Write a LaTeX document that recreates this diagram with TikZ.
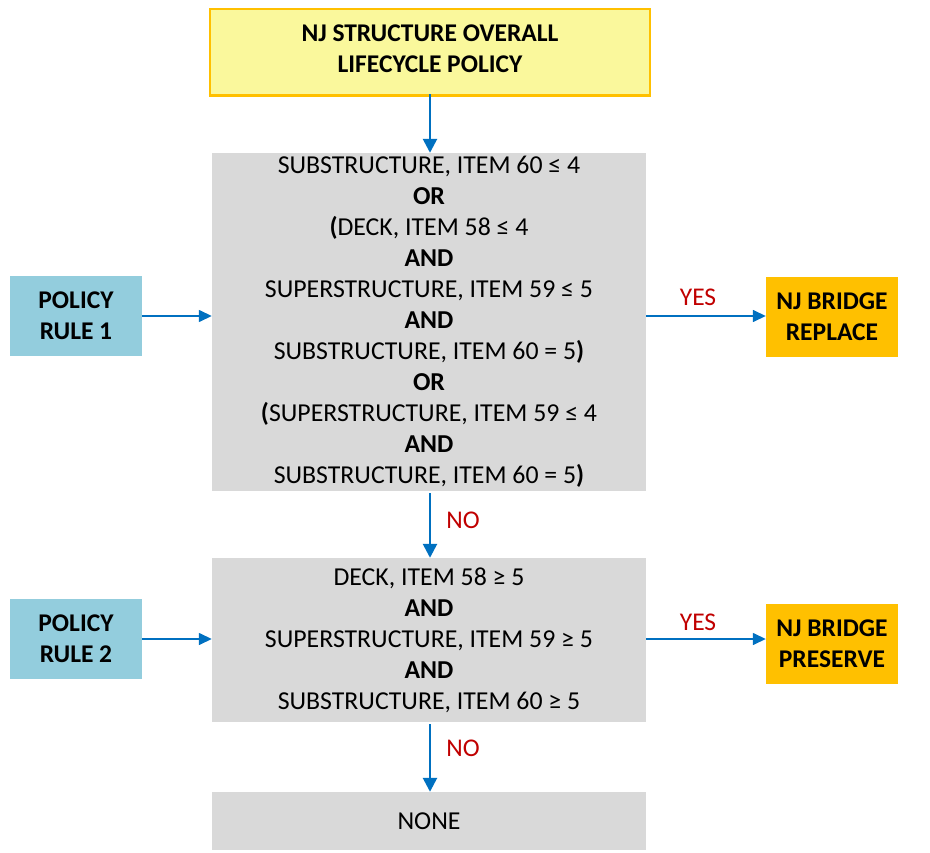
\documentclass[tikz,border=0pt]{standalone}
\usepackage{fontspec}
\setmainfont{Carlito}
\usetikzlibrary{arrows.meta}
\definecolor{cgray}{HTML}{D9D9D9}
\definecolor{cblue}{HTML}{93CDDD}
\definecolor{corange}{HTML}{FFC000}
\definecolor{cyellow}{HTML}{FAF89C}
\definecolor{carrow}{HTML}{0070C0}
\definecolor{cred}{HTML}{C00000}
\tikzset{
  graybox/.style={fill=cgray, draw=none, minimum width=434pt, align=center, inner sep=0pt,
    font=\fontsize{25.8}{31}\selectfont},
  rulebox/.style={fill=cblue, draw=none, minimum width=132pt, minimum height=80pt, align=center,
    inner sep=0pt, font=\fontsize{25.5}{31}\selectfont\bfseries},
  outbox/.style={fill=corange, draw=none, minimum width=132pt, minimum height=80pt, align=center,
    inner sep=0pt, font=\fontsize{25.5}{31}\selectfont\bfseries},
  topbox/.style={fill=cyellow, draw=corange, line width=1.5pt, minimum width=440pt, minimum height=86pt,
    inner sep=0pt},
  toptext/.style={align=center, inner sep=0pt, font=\fontsize{25.5}{31}\selectfont\bfseries},
  flow/.style={draw=carrow, line width=1.5pt, -{Triangle[length=13pt,width=12pt]}},
  vflow/.style={draw=carrow, line width=2.6pt, -{Triangle[length=14pt,width=14pt]}},
  lbl/.style={text=cred, font=\fontsize{25.5}{28}\selectfont, inner sep=0pt}
}
\begin{document}
\begin{tikzpicture}[x=1pt,y=-1pt]
\useasboundingbox (0,0) rectangle (930,853);
\node[topbox] (top) at (430,52) {};
\node[toptext] (toplabel) at (430,49) {NJ STRUCTURE OVERALL\\LIFECYCLE POLICY};
\draw[corange, line width=3pt] ([xshift=-0.5pt]top.south west) -- ([xshift=0.5pt]top.south east);
\node[graybox, minimum height=338pt] (c1) at (429,322) {%
SUBSTRUCTURE, ITEM 60 ≤ 4\\
\textbf{OR}\\
\textbf{(}DECK, ITEM 58 ≤ 4\\
\textbf{AND}\\
SUPERSTRUCTURE, ITEM 59 ≤ 5\\
\textbf{AND}\\
SUBSTRUCTURE, ITEM 60 = 5\textbf{)}\\
\textbf{OR}\\
\textbf{(}SUPERSTRUCTURE, ITEM 59 ≤ 4\\
\textbf{AND}\\
SUBSTRUCTURE, ITEM 60 = 5\textbf{)}};
\node[graybox, minimum height=164pt] (c2) at (429,640) {%
DECK, ITEM 58 ≥ 5\\
\textbf{AND}\\
SUPERSTRUCTURE, ITEM 59 ≥ 5\\
\textbf{AND}\\
SUBSTRUCTURE, ITEM 60 ≥ 5};
\node[graybox, minimum height=58pt] (none) at (429,821) {NONE};
\node[rulebox] (r1) at (76,316) {POLICY\\RULE 1};
\node[rulebox] (r2) at (76,639) {POLICY\\RULE 2};
\node[outbox] (o1) at (832,317) {NJ BRIDGE\\REPLACE};
\node[outbox] (o2) at (832,644) {NJ BRIDGE\\PRESERVE};
\draw[vflow] ([yshift=1.5pt]top.south) -- (top.south |- c1.north);
\draw[flow] (r1.east) -- (r1.east -| c1.west);
\draw[flow] (r2.east) -- (r2.east -| c2.west);
\draw[flow] (c1.east |- r1.east) -- (o1.west |- r1.east);
\draw[flow] (c2.east |- r2.east) -- (o2.west |- r2.east);
\draw[vflow] ([yshift=-2pt]c1.south -| top.south) -- (c2.north -| top.south);
\draw[vflow] ([yshift=-2pt]c2.south -| top.south) -- (none.north -| top.south);
\node[lbl] at (698,297) {YES};
\node[lbl] at (698,622) {YES};
\node[lbl] at (463,520) {NO};
\node[lbl] at (463,748) {NO};
\end{tikzpicture}
\end{document}
